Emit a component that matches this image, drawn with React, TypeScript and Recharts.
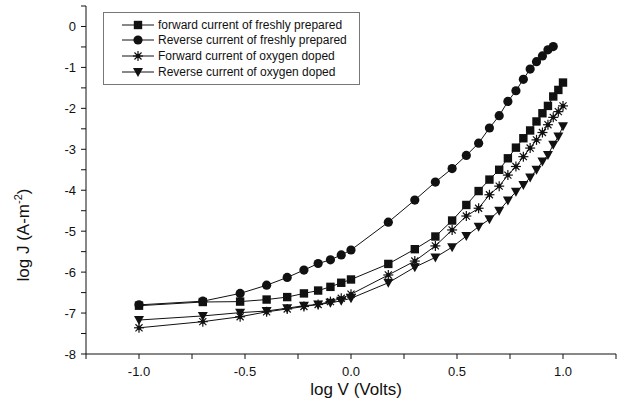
import React from "react";
import { ScatterChart, Scatter, XAxis, YAxis } from "recharts";

// log V (Volts) for 0.1 ... 1.0 V, then 1.5 ... 10 V
const logV = [
  -1.0, -0.699, -0.523, -0.398, -0.301, -0.222, -0.155, -0.097, -0.046, 0.0,
  0.176, 0.301, 0.398, 0.477, 0.544, 0.602, 0.653, 0.699, 0.74, 0.778, 0.813,
  0.845, 0.875, 0.903, 0.929, 0.954, 0.978, 1.0,
];

const forwardFresh = [
  -6.82, -6.73, -6.72, -6.67, -6.61, -6.52, -6.45, -6.36, -6.26, -6.18, -5.8,
  -5.44, -5.13, -4.74, -4.36, -4.02, -3.74, -3.5, -3.22, -2.96, -2.73, -2.54,
  -2.32, -2.12, -1.94, -1.71, -1.55, -1.37,
];

// this one stops at 9 V
const reverseFresh = [
  -6.8, -6.71, -6.52, -6.32, -6.13, -5.95, -5.79, -5.7, -5.58, -5.46, -4.78,
  -4.24, -3.8, -3.47, -3.15, -2.85, -2.48, -2.18, -1.83, -1.57, -1.29, -1.04,
  -0.86, -0.72, -0.57, -0.49,
];

const forwardDoped = [
  -7.36, -7.21, -7.09, -6.97, -6.9, -6.84, -6.79, -6.72, -6.64, -6.54, -6.07,
  -5.73, -5.36, -4.97, -4.63, -4.44, -4.11, -3.9, -3.63, -3.42, -3.18, -2.97,
  -2.77, -2.59, -2.4, -2.22, -2.08, -1.94,
];

const reverseDoped = [
  -7.17, -7.07, -6.99, -6.95, -6.88, -6.82, -6.79, -6.75, -6.7, -6.64, -6.26,
  -5.88, -5.64, -5.39, -5.12, -4.89, -4.71, -4.5, -4.25, -4.04, -3.87, -3.69,
  -3.5, -3.3, -3.14, -2.89, -2.69, -2.44,
];

const seriesNames = [
  "forward current of freshly prepared",
  "Reverse current of freshly prepared",
  "Forward current of oxygen doped",
  "Reverse current of oxygen doped",
];
const seriesMarkers = ["square", "circle", "star", "triangle"];

const xTicks = [-1.25, -1, -0.75, -0.5, -0.25, 0, 0.25, 0.5, 0.75, 1, 1.25];
const yTicks = [
  -8, -7.5, -7, -6.5, -6, -5.5, -5, -4.5, -4, -3.5, -3, -2.5, -2, -1.5, -1,
  -0.5, 0, 0.5,
];

const FONT = '"Liberation Sans", Arial, Helvetica, sans-serif';
const INK = "#111";

function toPoints(ys: number[]) {
  return ys.map((y, i) => ({ x: logV[i], y }));
}

function Marker({ kind, cx, cy }: { kind: string; cx: number; cy: number }) {
  if (kind === "square") {
    return <rect x={cx - 4.2} y={cy - 4.2} width={8.4} height={8.4} fill={INK} />;
  }
  if (kind === "circle") {
    return <circle cx={cx} cy={cy} r={4.6} fill={INK} />;
  }
  if (kind === "triangle") {
    return (
      <polygon
        points={`${cx - 5},${cy - 4} ${cx + 5},${cy - 4} ${cx},${cy + 5}`}
        fill={INK}
      />
    );
  }
  const r = 5;
  const d = r * 0.707;
  return (
    <g stroke={INK} strokeWidth={1.2}>
      <line x1={cx - r} y1={cy} x2={cx + r} y2={cy} />
      <line x1={cx} y1={cy - r} x2={cx} y2={cy + r} />
      <line x1={cx - d} y1={cy - d} x2={cx + d} y2={cy + d} />
      <line x1={cx - d} y1={cy + d} x2={cx + d} y2={cy - d} />
      <circle cx={cx} cy={cy} r={1.6} fill={INK} />
    </g>
  );
}

const shapeFor = (kind: string) => (props: any) =>
  <Marker kind={kind} cx={props.cx} cy={props.cy} />;

function YTitle(props: any) {
  const vb = props.viewBox;
  const x = vb.x + 29;
  const y = 235;
  return (
    <text
      x={x}
      y={y}
      transform={`rotate(-90, ${x}, ${y})`}
      textAnchor="middle"
      fontFamily={FONT}
      fontSize={17}
      fill={INK}
    >
      log J (A-m
      <tspan dy={-7} fontSize={11}>-2</tspan>
      <tspan dy={7}>)</tspan>
    </text>
  );
}

function XTitle(props: any) {
  const vb = props.viewBox;
  return (
    <text
      x={vb.x + vb.width / 2 + 5}
      y={vb.y + 41}
      textAnchor="middle"
      fontFamily={FONT}
      fontSize={17}
      fill={INK}
    >
      log V (Volts)
    </text>
  );
}

function LegendBox() {
  return (
    <div
      style={{
        position: "absolute",
        left: 103,
        top: 12,
        width: 255,
        height: 67,
        border: "1px solid #777",
        background: "#fff",
        paddingTop: 4,
        boxSizing: "content-box",
      }}
    >
      {seriesNames.map((name, i) => (
        <div
          key={name}
          style={{
            display: "flex",
            alignItems: "center",
            height: 15.6,
            fontFamily: FONT,
            fontSize: 12,
            color: INK,
            whiteSpace: "nowrap",
          }}
        >
          <svg width={36} height={14} style={{ marginLeft: 18, flex: "none" }}>
            <line x1={0} y1={7} x2={32} y2={7} stroke={INK} strokeWidth={1} />
            <Marker kind={seriesMarkers[i]} cx={16} cy={7} />
          </svg>
          <span>{name}</span>
        </div>
      ))}
    </div>
  );
}

export default function App() {
  const lineStyle = { stroke: INK, strokeWidth: 1 };
  return (
    <div style={{ position: "absolute", left: 0, top: 0, width: 623, height: 406, background: "#fff" }}>
      <ScatterChart
        width={623}
        height={406}
        margin={{ top: 6, right: 7, bottom: 0, left: 0 }}
      >
        <XAxis
          type="number"
          dataKey="x"
          domain={[-1.25, 1.25]}
          ticks={xTicks}
          allowDataOverflow
          height={52}
          stroke={INK}
          tickSize={5}
          tickMargin={8}
          tick={{ fill: INK, fontSize: 13, fontFamily: FONT }}
          tickFormatter={(v: number) => (Math.abs(v * 2 - Math.round(v * 2)) < 1e-6 ? v.toFixed(1) : "")}
          label={<XTitle />}
        />
        <YAxis
          type="number"
          dataKey="y"
          domain={[-8, 0.5]}
          ticks={yTicks}
          allowDataOverflow
          width={86}
          stroke={INK}
          tickSize={5}
          tickMargin={5}
          tick={{ fill: INK, fontSize: 13, fontFamily: FONT }}
          tickFormatter={(v: number) => (Number.isInteger(v) ? String(v) : "")}
          label={<YTitle />}
        />
        <Scatter
          name={seriesNames[0]}
          data={toPoints(forwardFresh)}
          line={lineStyle}
          shape={shapeFor("square")}
          isAnimationActive={false}
        />
        <Scatter
          name={seriesNames[1]}
          data={toPoints(reverseFresh)}
          line={lineStyle}
          shape={shapeFor("circle")}
          isAnimationActive={false}
        />
        <Scatter
          name={seriesNames[2]}
          data={toPoints(forwardDoped)}
          line={lineStyle}
          shape={shapeFor("star")}
          isAnimationActive={false}
        />
        <Scatter
          name={seriesNames[3]}
          data={toPoints(reverseDoped)}
          line={lineStyle}
          shape={shapeFor("triangle")}
          isAnimationActive={false}
        />
      </ScatterChart>
      <LegendBox />
    </div>
  );
}
